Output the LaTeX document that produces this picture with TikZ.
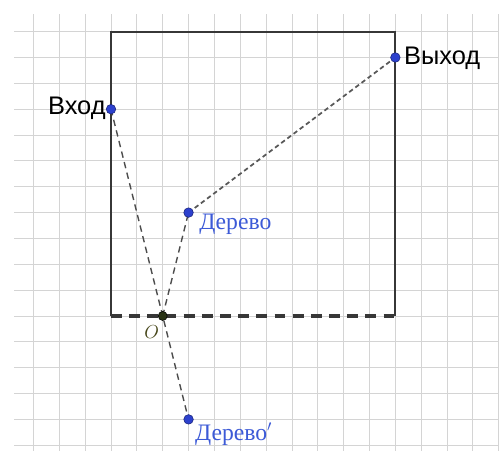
\documentclass[tikz,border=0pt]{standalone}
\usepackage{fontspec}
\newfontfamily\sansf{Liberation Sans}
\newfontfamily\seriff{Liberation Serif}
\definecolor{gridc}{RGB}{212,212,212}
\definecolor{boxc}{RGB}{55,55,55}
\definecolor{ptfill}{RGB}{45,65,205}
\definecolor{ptdraw}{RGB}{25,35,120}
\definecolor{lblblue}{RGB}{60,90,215}
\definecolor{ofill}{RGB}{40,50,20}
\definecolor{olbl}{RGB}{70,70,25}
\tikzset{
  gridline/.style={draw=gridc, line width=0.9pt},
  boxline/.style={draw=boxc, line width=2.1pt},
  boxdash/.style={draw=boxc, line width=3.4pt, dash pattern=on 12pt off 8pt},
  thindash/.style={draw=black!70, line width=1.5pt, dash pattern=on 7pt off 5pt},
  finedash/.style={draw=black!65, line width=1.9pt, dash pattern=on 5pt off 3.5pt},
  bluept/.style={circle, fill=ptfill, draw=ptdraw, line width=0.6pt, inner sep=0pt, minimum size=0.37cm},
  opt/.style={circle, fill=ofill, draw=black, line width=0.6pt, inner sep=0pt, minimum size=0.35cm},
  biglbl/.style={font=\sansf\fontsize{28}{32}\selectfont, text=black, inner sep=0pt},
  treelbl/.style={font=\seriff\fontsize{26}{30}\selectfont, text=lblblue, inner sep=0pt},
}
\begin{document}
\begin{tikzpicture}
\useasboundingbox (-6.294,-5.222) rectangle (13.010,12.224);
\fill[white] (-6.294,-5.222) rectangle (13.010,12.224);
\draw[gridline] (-5.75,-5.222) grid (13.010,11.68);
% square corners
\coordinate (bl) at (-2,0);
\coordinate (tl) at (-2,11);
\coordinate (tr) at (9,11);
\coordinate (br) at (9,0);
\draw[boxline] (bl) -- (tl) -- (tr) -- (br);
\draw[boxdash] (bl) -- (br);
% points
\coordinate (vhodc) at (-2,8);
\coordinate (vyhodc) at (9,10);
\coordinate (derc) at (1,4);
\coordinate (der2c) at (1,-4);
\coordinate (oc) at (0,0);
\draw[thindash] (vhodc) -- (der2c);
\draw[thindash] (oc) -- (derc);
\draw[finedash] (derc) -- (vyhodc);
\node[bluept] (vhod) at (vhodc) {};
\node[bluept] (vyhod) at (vyhodc) {};
\node[bluept] (der) at (derc) {};
\node[bluept] (der2) at (der2c) {};
\node[opt] (o) at (oc) {};
% labels
\node[biglbl, anchor=base east] (vhodl) at (-2.2,7.78) {Вход};
\node[biglbl, anchor=base west] (vyhodl) at (9.33,9.71) {Выход};
\node[treelbl, anchor=base west] (derl) at (1.41,3.33) {Дерево};
\node[treelbl, anchor=base west] (der2l) at (1.25,-4.80) {Дерево$'$};
\node[text=olbl, font=\fontsize{22}{26}\selectfont] (ol) at (-0.43,-0.62) {$O$};
\end{tikzpicture}
\end{document}
